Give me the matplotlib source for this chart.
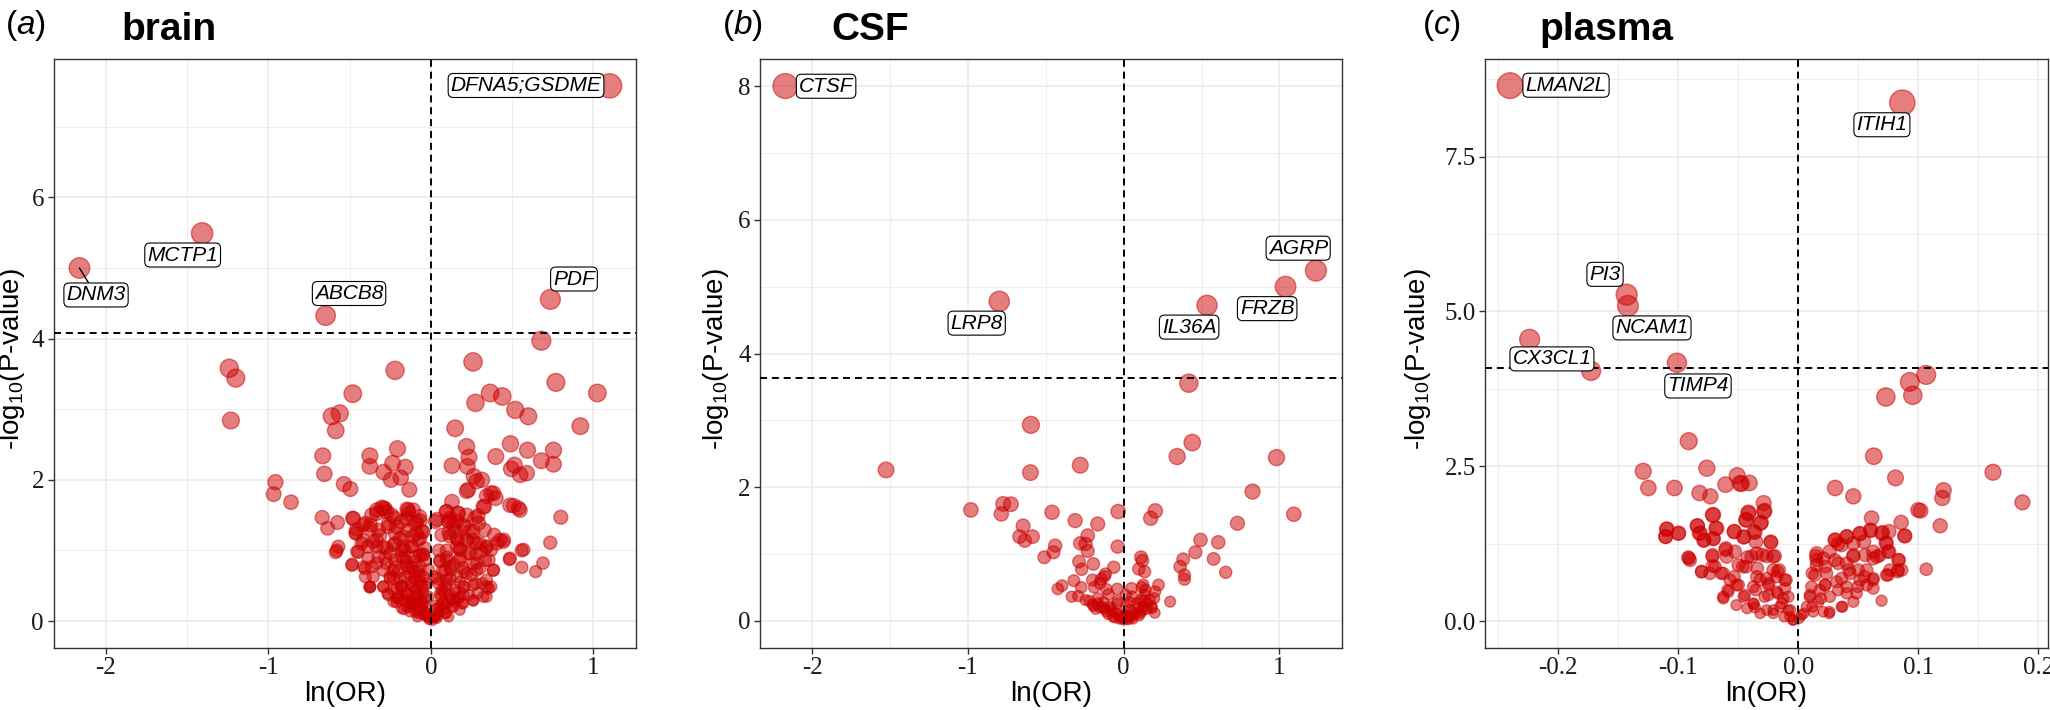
import matplotlib
matplotlib.use("agg")
import matplotlib.pyplot as plt

plt.rcParams["font.family"] = ["Liberation Sans", "DejaVu Sans"]
plt.rcParams["mathtext.fontset"] = "custom"
plt.rcParams["mathtext.rm"] = "Liberation Sans"
plt.rcParams["mathtext.it"] = "Liberation Sans:italic"
plt.rcParams["mathtext.bf"] = "Liberation Sans:bold"
plt.rcParams["axes.unicode_minus"] = False

# ---- brain ----
brain_x = [
    -1.24, -1.20, -1.23, -0.22, -0.48, -0.61, -0.56, -0.585, -0.665, -0.655, -0.375, -0.375, -0.205,
    -0.29, -0.235, -0.157, -0.245, -0.185, -0.132, -0.535, -0.495, -0.956, -0.967, -0.86, -0.668,
    -0.635, -0.574, -0.481, -0.462, -0.569, -0.585, -0.453, -0.484,
    0.26, 0.77, 1.025, 0.365, 0.44, 0.275, 0.52, 0.60, 0.92, 0.15, 0.22, 0.49, 0.595, 0.755, 0.40,
    0.68, 0.755, 0.235, 0.13, 0.225, 0.495, 0.515, 0.55, 0.59, 0.265, 0.315, 0.23, 0.37, 0.40, 0.33,
    0.51, 0.54, 0.80, 0.735, 0.57, 0.485, 0.56, 0.69, 0.645, 0.45, 0.39, 0.13, 0.095, 0.29, 0.295, 0.68,
    -0.457, -0.415, -0.364, -0.333, -0.292, -0.272, -0.37, -0.323, -0.262, -0.22, -0.18, -0.139,
    -0.149, -0.097, -0.066, -0.087, -0.066, -0.169, -0.22, -0.333, -0.385, -0.333, -0.272, -0.231,
    -0.169, -0.118, -0.385, -0.333, -0.405, -0.354, -0.374, -0.292, -0.272, -0.22, -0.18, -0.231,
    -0.149, -0.097, -0.046, -0.036, -0.251, -0.19, -0.128, -0.077, -0.231, -0.18, -0.21, -0.159,
    -0.107, -0.066, -0.149, -0.118, -0.087, -0.046, -0.066, -0.036, -0.015, -0.097, -0.046, -0.015,
    -0.025, -0.015, 0.036, 0.118, 0.139, 0.098, 0.169,
    -0.426, -0.404, -0.302, -0.146, -0.069, -0.055, -0.376, -0.266, -0.212, -0.165, -0.082,
    0.343, 0.357, 0.261, 0.179, 0.11,
    0.027, 0.11, 0.165, 0.22, 0.206, 0.151, 0.165, 0.261, 0.302, 0.343, 0.371, 0.357, 0.385, 0.343,
    0.302, 0.261, 0.234, 0.179, 0.096, 0.055, 0.124, 0.206, 0.275, 0.206, 0.151, 0.096, 0.069, 0.124,
    0.192, 0.055, 0.096, 0.027, 0.069, 0.234, 0.288, 0.316, 0.371, 0.426, 0.261, 0.179, 0.33,
    -0.02, 0.02, -0.05, 0.05, -0.08, 0.08, -0.10, 0.10, -0.12, 0.13, -0.03, 0.03, -0.06, 0.06, -0.15,
    0.15, -0.09, 0.09, -0.04, 0.04, -0.12, 0.12, -0.18, 0.18, -0.07, 0.07, -0.14, 0.14, -0.20, 0.20,
    -0.10, 0.10, -0.25, 0.25, -0.05, 0.05, -0.16, 0.16, -0.22, 0.22, -0.11, 0.11, -0.28, 0.28,
    -0.01, 0.01, -0.04, 0.04, -0.13, 0.13, -0.17, 0.17, -0.20, 0.20, -0.08, 0.08,
    -0.374, -0.292, -0.261, -0.230, -0.179, -0.128, -0.476, -0.460, -0.446, -0.579, -0.485, -0.413,
    -0.403, -0.333, -0.282, -0.261, -0.210, -0.138, -0.087, -0.046, -0.077, -0.118, -0.179, -0.251,
    -0.323, -0.354, -0.313, -0.190, -0.138, -0.364, -0.292, -0.220, -0.149, -0.067, -0.036, -0.230,
    -0.159, -0.097, -0.046, -0.179, -0.118, -0.056, -0.149, -0.087, -0.036, -0.107, -0.056, -0.025,
    -0.077, -0.128, -0.200, -0.210, -0.097, -0.118, -0.067, -0.169, -0.292, -0.415, -0.374, -0.241,
    -0.108,
    0.108, 0.221, 0.282, 0.344, 0.385, 0.323, 0.272, 0.200, 0.159, 0.221, 0.282, 0.344, 0.405, 0.446,
    0.487, 0.549, 0.559, 0.487, 0.385, 0.334, 0.344, 0.323, 0.262, 0.200, 0.139, 0.088, 0.037, 0.057,
    0.118, 0.180, 0.241, 0.180, 0.098, 0.159, 0.221, 0.282, 0.098, 0.200, 0.262, 0.057, 0.118, 0.180,
    0.077, 0.036, 0.149, 0.088, 0.026, 0.047, 0.282, 0.313, 0.118, 0.067, 0.241, 0.159,
]
brain_y = [
    3.58, 3.44, 2.84, 3.55, 3.22, 2.90, 2.94, 2.70, 2.34, 2.085, 2.34, 2.19, 2.44,
    2.11, 2.235, 2.18, 2.00, 2.03, 1.86, 1.94, 1.87, 1.967, 1.797, 1.683, 1.466,
    1.314, 1.395, 1.456, 1.253, 1.054, 0.974, 0.983, 0.804,
    3.67, 3.38, 3.23, 3.23, 3.18, 3.09, 2.99, 2.90, 2.76, 2.73, 2.47, 2.51, 2.42, 2.42, 2.33,
    2.27, 2.22, 2.32, 2.20, 2.19, 2.155, 2.21, 2.07, 2.095, 2.05, 2.00, 1.86, 1.81, 1.74, 1.62,
    1.635, 1.60, 1.47, 1.11, 1.01, 0.875, 0.76, 0.82, 0.70, 1.15, 1.22, 1.69, 1.55, 1.49, 1.385, 3.97,
    1.30, 1.36, 1.50, 1.572, 1.596, 1.549, 1.36, 1.289, 1.336, 1.454, 1.407, 1.572,
    1.454, 1.383, 1.421, 1.242, 1.171, 1.195, 1.242, 1.147, 1.053, 1.053, 1.029, 1.077,
    1.053, 1.053, 0.888, 0.817, 0.746, 0.628, 0.486, 0.486, 0.817, 0.864, 0.911, 0.722,
    0.793, 0.911, 0.935, 1.029, 0.628, 0.604, 0.675, 0.699, 0.439, 0.486, 0.321, 0.345,
    0.486, 0.557, 0.203, 0.25, 0.345, 0.392, 0.203, 0.132, 0.061, 0.132, 0.25, 0.345,
    0.533, 0.722, 1.44, 1.454, 1.36, 1.549, 1.525,
    1.10, 1.385, 1.61, 1.584, 1.48, 1.27, 0.477, 0.39, 0.265, 0.165, 0.06,
    0.345, 0.463, 0.288, 0.156, 0.06,
    1.41, 1.41, 1.527, 1.50, 1.338, 1.267, 1.149, 1.149, 1.10, 1.054, 1.007, 0.865, 0.723, 0.582,
    0.747, 0.818, 0.96, 0.889, 0.865, 0.842, 0.723, 0.70, 0.534, 0.487, 0.44, 0.582, 0.44, 0.322,
    0.251, 0.203, 0.109, 0.061, 0.251, 0.369, 0.392, 0.534, 0.487, 1.149, 1.267, 1.007, 1.29,
    0.05, 0.05, 0.10, 0.12, 0.15, 0.18, 0.25, 0.25, 0.30, 0.30, 0.20, 0.22, 0.30, 0.35, 0.40,
    0.40, 0.45, 0.50, 0.50, 0.60, 0.55, 0.60, 0.50, 0.55, 0.65, 0.70, 0.75, 0.80, 0.70, 0.75,
    0.85, 0.90, 0.60, 0.65, 0.95, 1.00, 1.00, 1.05, 1.10, 1.15, 1.20, 1.25, 0.90, 0.95,
    0.02, 0.01, 0.08, 0.07, 0.20, 0.20, 0.30, 0.32, 0.35, 0.38, 0.38, 0.40,
    0.486, 0.486, 0.368, 0.274, 0.180, 0.132, 1.453, 1.240, 0.980, 1.000, 0.790, 0.768,
    0.627, 1.524, 1.595, 1.383, 1.335, 1.524, 1.407, 1.265, 1.147, 1.053, 1.005, 0.958,
    0.910, 1.120, 1.210, 1.170, 1.290, 0.768, 0.720, 0.768, 0.840, 0.934, 0.863, 0.604,
    0.627, 0.698, 0.627, 0.486, 0.510, 0.486, 0.368, 0.344, 0.320, 0.226, 0.203, 0.108,
    0.108, 0.250, 0.320, 0.463, 0.604, 0.768, 0.768, 0.887, 1.050, 1.140, 1.310, 1.500,
    1.572,
    1.411, 1.840, 1.980, 1.770, 1.810, 1.620, 1.460, 1.360, 1.175, 1.150, 1.100, 1.050, 1.100, 1.120,
    1.640, 1.570, 1.000, 0.887, 0.720, 0.860, 0.486, 0.344, 0.297, 0.250, 0.200, 0.108, 0.037, 0.863,
    0.768, 0.863, 0.958, 1.030, 1.000, 0.627, 0.674, 0.720, 0.533, 0.486, 0.510, 0.391, 0.368, 0.344,
    0.250, 0.180, 0.274, 0.720, 0.627, 0.533, 0.816, 0.990, 1.200, 1.220, 1.270, 1.410,
]
brain_genes = ["DFNA5;GSDME", "MCTP1", "DNM3", "ABCB8", "PDF"]
brain_gene_x = [1.10, -1.407, -2.162, -0.647, 0.736]
brain_gene_y = [7.58, 5.49, 5.00, 4.325, 4.556]
brain_threshold = 4.08

# ---- CSF ----
csf_x = [
    0.418, -0.596, 0.440, 0.343, 0.981, -1.526, -0.279, -0.599, 0.827, -0.981, -0.774, -0.724, -0.786,
    -0.460, -0.036, 0.203, 0.173, 1.092, 0.730, -0.312, -0.167, -0.646, -0.669, -0.585, -0.635,
    0.493, 0.607, -0.231, -0.279, -0.245, -0.440, -0.039, -0.231, -0.451, -0.510, 0.460, 0.577,
    0.382, 0.111, 0.120, -0.287, -0.195, 0.362, 0.655, -0.270, -0.064, 0.097, 0.134, 0.390, 0.390,
    -0.320, -0.117, -0.145, -0.273, -0.396, -0.423, -0.201, -0.189, -0.111, -0.042, 0.050, 0.117,
    0.223, 0.201, 0.134, 0.167, 0.298, -0.334, -0.292, -0.245, -0.167, -0.097, 0.014, 0.056, 0.084,
    0.125, -0.195, -0.139, -0.084, -0.042, 0.014, 0.042, -0.014, 0.028, -0.111, 0.106, 0.181, 0.195,
    0.125, 0.139, -0.153, -0.125, 0.014, -0.042, -0.070, 0.000, 0.056, -0.167, 0.153, 0.111,
    -0.18, -0.15, -0.12, -0.08, -0.05, -0.02, 0.02, 0.05, 0.08, 0.12, 0.15, -0.10, 0.10, -0.06,
    0.06, -0.03, 0.03, 0.00, -0.20, 0.18, -0.13, 0.13, -0.22, 0.20, 0.09, -0.09, -0.04, 0.04,
]
csf_y = [
    3.556, 2.933, 2.668, 2.459, 2.444, 2.259, 2.329, 2.219, 1.935, 1.661, 1.751, 1.746, 1.601,
    1.626, 1.636, 1.646, 1.536, 1.596, 1.461, 1.501, 1.451, 1.421, 1.262, 1.262, 1.202,
    1.212, 1.177, 1.277, 1.162, 1.152, 1.127, 1.112, 1.047, 1.027, 0.953, 1.027, 0.928,
    0.923, 0.953, 0.903, 0.888, 0.853, 0.813, 0.728, 0.773, 0.803, 0.778, 0.738, 0.688, 0.623,
    0.603, 0.703, 0.623, 0.504, 0.529, 0.479, 0.613, 0.504, 0.474, 0.479, 0.489, 0.504,
    0.539, 0.439, 0.389, 0.314, 0.289, 0.364, 0.374, 0.314, 0.339, 0.399, 0.389, 0.364, 0.264,
    0.214, 0.224, 0.214, 0.190, 0.115, 0.090, 0.165, 0.040, 0.040, 0.140, 0.115, 0.190, 0.339,
    0.539, 0.464, 0.564, 0.663, 0.214, 0.264, 0.065, 0.015, 0.065, 0.264, 0.264, 0.314,
    0.18, 0.20, 0.18, 0.15, 0.12, 0.08, 0.06, 0.10, 0.12, 0.15, 0.18, 0.10, 0.08, 0.05,
    0.03, 0.03, 0.02, 0.05, 0.25, 0.22, 0.28, 0.30, 0.30, 0.12, 0.20, 0.22, 0.30, 0.28,
]
csf_genes = ["CTSF", "LRP8", "IL36A", "FRZB", "AGRP"]
csf_gene_x = [-2.172, -0.799, 0.535, 1.039, 1.234]
csf_gene_y = [8.00, 4.78, 4.72, 5.00, 5.24]
csf_threshold = 3.63

# ---- plasma ----
plasma_x = [
    -0.1726, 0.1065, 0.0928, 0.0953, 0.0729, -0.0913, 0.0628, -0.1292, 0.1621, -0.0762, -0.0509,
    -0.0473, -0.0408, -0.0606, -0.1249, -0.1032, -0.0823, -0.0733, 0.0809, 0.0307, 0.0458, 0.1209,
    0.1199, 0.1866, 0.1018, -0.0289, -0.0282, -0.0415, -0.0433, -0.0310, -0.0708, -0.0841, -0.0686,
    -0.0816, -0.1094, -0.0996, -0.1105, -0.0787, -0.0708, -0.0534, -0.0455, -0.0361, -0.0227,
    0.0610, 0.0856, 0.0884, 0.1181, 0.0700, 0.0603, 0.0755, 0.0729, 0.0513, 0.0404, 0.0307, 0.0332,
    0.0260, 0.0152, 0.0152, 0.0657, 0.0747, 0.0838, 0.0747, 0.0827, 0.1065, 0.0693, 0.0458, 0.0422,
    0.0549, 0.0621, 0.0495, 0.0332, 0.0224, 0.0116, 0.0224, 0.0332, 0.0404, 0.0368, 0.0260, 0.0188,
    0.0097, 0.0116, 0.0043, 0.0007, -0.0913, -0.0805, -0.0715, -0.0643, -0.0715, -0.0606, -0.0625,
    -0.0588, -0.0498, -0.0534, -0.0462, -0.0390, -0.0300, -0.0209, -0.0455, -0.0372, -0.0354,
    -0.0318, -0.0245, -0.0173, -0.0101, -0.0209, -0.0137, -0.0282, -0.0173, -0.0083, -0.0065,
    -0.0119, -0.0047, -0.0318, -0.0426, -0.0516,
    -0.0486, -0.0286, -0.0417, -0.0436, -0.0314, -0.0714, -0.0680, -0.0841, -0.1097, -0.0999,
    -0.1105, -0.0825, -0.0786, -0.0708, -0.0534, -0.0453, -0.0370, -0.0353, -0.0231, -0.0603,
    -0.0528, -0.0597, -0.0714, -0.0916, -0.0902, -0.0425, -0.0347, -0.0264, -0.0195, -0.0500,
    -0.0436, -0.0695, -0.0806, -0.0736, -0.0625, -0.0569, -0.0514, -0.0347, -0.0264, -0.0342,
    -0.0159, -0.0181, -0.0112, -0.0250, -0.0375, -0.0445, -0.0583, -0.0625, -0.0375, -0.0361,
    -0.0250, -0.0181, -0.0125, -0.0264, -0.0209, -0.0153, -0.0084, -0.0070, -0.0042, -0.0112,
    -0.0209,
    0.0998, 0.0888, 0.0694, 0.0602, 0.0513, 0.0402, 0.0305, 0.0360, 0.0458, 0.0546, 0.0735,
    0.0757, 0.0679, 0.0624, 0.0832, 0.0832, 0.0763, 0.0860, 0.0735, 0.0624, 0.0569, 0.0499,
    0.0430, 0.0402, 0.0305, 0.0208, 0.0147, 0.0152, 0.0235, 0.0138, 0.0221, 0.0319, 0.0402,
    0.0485, 0.0458, 0.0360, 0.0263, 0.0180, 0.0110, 0.0097, 0.0166, 0.0069, 0.0027, 0.0124,
    0.0208, 0.0258, 0.0624, 0.0569, 0.0624, 0.0555, 0.0458, 0.0513, 0.0360,
]
plasma_y = [
    4.039, 3.974, 3.861, 3.645, 3.618, 2.905, 2.662, 2.419, 2.403, 2.468, 2.349,
    2.219, 2.230, 2.203, 2.149, 2.149, 2.068, 2.014, 2.311, 2.149, 2.014, 2.111,
    1.987, 1.917, 1.782, 1.906, 1.782, 1.755, 1.636, 1.593, 1.717, 1.539, 1.501,
    1.420, 1.485, 1.420, 1.366, 1.301, 1.328, 1.447, 1.355, 1.431, 1.269,
    1.663, 1.593, 1.377, 1.539, 1.431, 1.463, 1.447, 1.269, 1.409, 1.366, 1.312, 1.247,
    1.123, 1.096, 0.988, 1.042, 1.123, 0.988, 0.745, 0.799, 0.837, 0.329, 1.042, 0.826,
    0.718, 0.664, 0.556, 0.934, 0.880, 0.772, 0.583, 0.502, 0.448, 0.232, 0.151, 0.367,
    0.421, 0.232, 0.124, 0.043, 1.015, 0.799, 0.891, 0.772, 1.042, 1.150, 0.367,
    0.502, 0.583, 0.718, 0.880, 1.042, 1.069, 1.042, 0.394, 0.275, 0.502,
    0.664, 0.610, 0.799, 0.664, 0.178, 0.286, 0.394, 0.448, 0.394, 0.178,
    0.070, 0.016, 0.124, 0.205, 0.259,
    2.224, 1.766, 1.739, 1.632, 1.578, 1.712, 1.497, 1.535, 1.486, 1.416,
    1.362, 1.416, 1.309, 1.335, 1.443, 1.362, 1.443, 1.282, 1.282, 1.174,
    1.120, 1.039, 1.066, 1.029, 0.985, 1.029, 1.093, 1.050, 1.050, 0.905,
    0.878, 0.878, 0.797, 0.770, 0.770, 0.662, 0.582, 0.716, 0.689, 0.851,
    0.824, 0.716, 0.662, 0.582, 0.555, 0.420, 0.474, 0.393, 0.285, 0.221,
    0.420, 0.474, 0.366, 0.178, 0.124, 0.232, 0.178, 0.070, 0.016, 0.528,
    0.824,
    1.793, 1.373, 1.416, 1.470, 1.416, 1.362, 1.309, 1.228, 1.255, 1.282, 1.255,
    1.120, 1.066, 1.012, 0.985, 0.824, 0.824, 0.824, 0.743, 0.689, 0.582, 0.824,
    0.770, 0.932, 0.985, 1.012, 1.050, 0.905, 0.770, 0.743, 0.582, 0.635, 0.555,
    0.447, 0.312, 0.232, 0.393, 0.501, 0.555, 0.393, 0.312, 0.232, 0.097, 0.151,
    0.151, 0.124, 0.528, 0.824, 1.120, 1.066, 1.066, 0.662, 0.689,
]
plasma_genes = ["LMAN2L", "ITIH1", "PI3", "NCAM1", "CX3CL1", "TIMP4"]
plasma_gene_x = [-0.2401, 0.0866, -0.1430, -0.1419, -0.2238, -0.1011]
plasma_gene_y = [8.645, 8.37, 5.27, 5.09, 4.55, 4.17]
plasma_threshold = 4.08

RED = "#CC0000"

panels = [
    dict(x=brain_x, y=brain_y, genes=brain_genes, gx=brain_gene_x, gy=brain_gene_y,
         thr=brain_threshold, tag="a", title="brain",
         rect=[0.02615, 0.0877, 0.2842, 0.8288],
         xlim=(-2.321, 1.264), ylim=(-0.378, 7.956),
         xticks=[-2, -1, 0, 1], xlabels=["-2", "-1", "0", "1"], xminor=[-1.5, -0.5, 0.5],
         yticks=[0, 2, 4, 6], ylabels=["0", "2", "4", "6"], yminor=[1, 3, 5, 7],
         lab=[(0.586, 7.585), (-1.527, 5.184), (-2.060, 4.618), (-0.503, 4.639), (0.881, 4.844)],
         seg=[2], ylab_x=-0.046, tag_x=0.0022, title_x=0.059),
    dict(x=csf_x, y=csf_y, genes=csf_genes, gx=csf_gene_x, gy=csf_gene_y,
         thr=csf_threshold, tag="b", title="CSF",
         rect=[0.3709, 0.0877, 0.2837, 0.8288],
         xlim=(-2.333, 1.401), ylim=(-0.40, 8.40),
         xticks=[-2, -1, 0, 1], xlabels=["-2", "-1", "0", "1"], xminor=[-1.5, -0.5, 0.5],
         yticks=[0, 2, 4, 6, 8], ylabels=["0", "2", "4", "6", "8"], yminor=[1, 3, 5, 7],
         lab=[(-1.911, 7.997), (-0.944, 4.454), (0.420, 4.395), (0.921, 4.671), (1.120, 5.575)],
         seg=[], ylab_x=-0.0504, tag_x=0.3524, title_x=0.4054),
    dict(x=plasma_x, y=plasma_y, genes=plasma_genes, gx=plasma_gene_x, gy=plasma_gene_y,
         thr=plasma_threshold, tag="c", title="plasma",
         rect=[0.7246, 0.0877, 0.2743, 0.8288],
         xlim=(-0.2606, 0.2077), ylim=(-0.43, 9.07),
         xticks=[-0.2, -0.1, 0.0, 0.1, 0.2], xlabels=["-0.2", "-0.1", "0.0", "0.1", "0.2"],
         xminor=[-0.25, -0.15, -0.05, 0.05, 0.15],
         yticks=[0, 2.5, 5.0, 7.5], ylabels=["0.0", "2.5", "5.0", "7.5"], yminor=[1.25, 3.75, 6.25, 8.75],
         lab=[(-0.1935, 8.651), (0.0696, 8.013), (-0.1610, 5.598), (-0.1219, 4.733),
              (-0.2052, 4.233), (-0.0836, 3.796)],
         seg=[], ylab_x=-0.093, tag_x=0.6937, title_x=0.7507),
]

fig = plt.figure(figsize=(20.5, 7.1), dpi=100)

for p in panels:
    ax = fig.add_axes(p["rect"])
    ax.set_xlim(p["xlim"])
    ax.set_ylim(p["ylim"])
    ax.set_axisbelow(True)

    ax.set_xticks(p["xticks"])
    ax.set_xticklabels(p["xlabels"], fontfamily="Liberation Serif", fontsize=18, color="#1a1a1a")
    ax.set_yticks(p["yticks"])
    ax.set_yticklabels(p["ylabels"], fontfamily="Liberation Serif", fontsize=18, color="#1a1a1a")
    ax.set_xticks(p["xminor"], minor=True)
    ax.set_yticks(p["yminor"], minor=True)
    ax.tick_params(which="major", length=4.5, width=1.0, color="#333333", pad=2.5)
    ax.tick_params(which="minor", length=0)
    ax.grid(which="major", color="#EBEBEB", lw=1.2)
    ax.grid(which="minor", color="#EBEBEB", lw=0.6)
    for sp in ax.spines.values():
        sp.set_color("#333333")
        sp.set_linewidth(1.0)

    xs = p["x"] + p["gx"]
    ys = p["y"] + p["gy"]
    sizes = [0.5184 * (100 + 65 * v) for v in ys]
    ax.scatter(xs, ys, s=sizes, c=RED, alpha=0.5, edgecolors=RED, linewidths=1.0, zorder=2)

    ax.axvline(0, color="black", lw=1.4, ls=(0, (3.6, 2.5)), zorder=3)
    ax.axhline(p["thr"], color="black", lw=1.4, ls=(0, (3.6, 2.5)), zorder=3)

    for i, name in enumerate(p["genes"]):
        arrow = None
        if i in p["seg"]:
            arrow = dict(arrowstyle="-", color="black", lw=1.0, shrinkA=0, shrinkB=0)
        ax.annotate(name, xy=(p["gx"][i], p["gy"][i]), xytext=p["lab"][i],
                    ha="center", va="center", fontsize=15, style="italic",
                    bbox=dict(boxstyle="round,pad=0.12,rounding_size=0.25",
                              fc="white", ec="black", lw=0.8),
                    arrowprops=arrow, zorder=4)

    ax.set_xlabel("ln(OR)", fontsize=20)
    ax.xaxis.set_label_coords(0.5, -0.056)
    ax.set_ylabel("-log$_{10}$(P-value)", fontsize=20)
    ax.yaxis.set_label_coords(p["ylab_x"], 0.49)

    fig.text(p["tag_x"], 0.952, "($\\mathit{" + p["tag"] + "}$)", fontsize=24, va="baseline")
    fig.text(p["title_x"], 0.9437, p["title"], fontsize=28, fontweight="bold", va="baseline")

fig.savefig("out.png", dpi=100, facecolor="white")
